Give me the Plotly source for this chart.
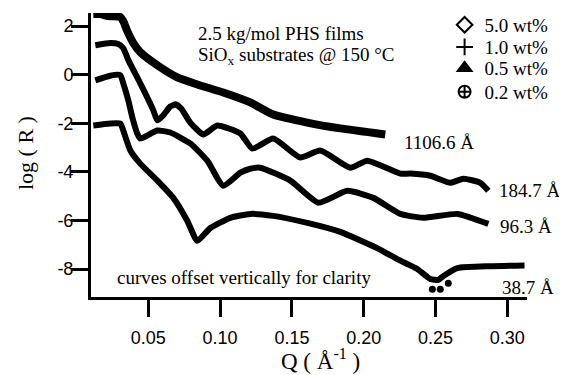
import plotly.graph_objects as go

# ---------------- data ----------------
labels = ["5.0 wt%", "1.0 wt%", "0.5 wt%", "0.2 wt%"]
symbols = ["diamond-open", "cross-thin-open", "triangle-up", "circle-cross-open"]
thickness_labels = ["1106.6 Å", "184.7 Å", "96.3 Å", "38.7 Å"]

q_5wt = [0.0117, 0.0166, 0.0221, 0.0270, 0.0305, 0.0326, 0.0354, 0.0396, 0.0444, 0.0563,
         0.0702, 0.0841, 0.1022, 0.1210, 0.1370, 0.1607, 0.1837, 0.2150]
r_5wt = [2.50, 2.50, 2.41, 2.41, 2.37, 2.20, 1.79, 1.30, 0.93, 0.39,
         -0.11, -0.40, -0.73, -1.14, -1.64, -1.97, -2.21, -2.46]

q_1wt = [0.0131, 0.0235, 0.0291, 0.0326, 0.0361, 0.0423, 0.0479, 0.0535, 0.0563, 0.0597,
         0.0653, 0.0690, 0.0730, 0.0792, 0.0883, 0.0980, 0.1141, 0.1224, 0.1370, 0.1558,
         0.1698, 0.1907, 0.2025, 0.2255, 0.2324, 0.2464, 0.2603, 0.2694, 0.2812, 0.2868]
r_1wt = [1.21, 1.30, 1.26, 1.09, 0.60, -0.11, -0.77, -1.47, -1.88, -1.72,
         -1.31, -1.22, -1.40, -1.97, -2.46, -2.09, -2.42, -3.04, -2.63, -3.41,
         -3.12, -3.83, -3.54, -4.07, -4.07, -4.16, -4.45, -4.28, -4.45, -4.78]

q_05wt = [0.0131, 0.0235, 0.0305, 0.0326, 0.0361, 0.0389, 0.0423, 0.0444, 0.0563, 0.0653,
          0.0792, 0.0911, 0.1022, 0.1141, 0.1210, 0.1280, 0.1489, 0.1684, 0.1886, 0.2067,
          0.2255, 0.2415, 0.2652, 0.2868]
r_05wt = [-0.23, -0.04, -0.02, -0.36, -1.06, -1.76, -2.42, -2.63, -2.30, -2.38,
          -2.83, -3.54, -4.57, -4.03, -3.87, -3.83, -4.36, -5.27, -4.78, -5.07,
          -5.73, -5.89, -5.73, -6.14]

q_02wt = [0.0117, 0.0235, 0.0305, 0.0326, 0.0375, 0.0444, 0.0563, 0.0674, 0.0772, 0.0841,
          0.0932, 0.1071, 0.1210, 0.1370, 0.1607, 0.1837, 0.2090, 0.2234, 0.2324, 0.2373,
          0.2464, 0.2520, 0.2554, 0.2652, 0.2882, 0.3120]
r_02wt = [-2.09, -2.01, -2.01, -2.30, -3.12, -3.66, -4.36, -5.07, -6.02, -6.84,
          -6.31, -5.89, -5.73, -5.81, -6.10, -6.47, -7.13, -7.59, -7.85, -8.00,
          -8.41, -8.45, -8.29, -7.96, -7.88, -7.85]
q_02wt_scatter = [0.2478, 0.2533, 0.2589]
r_02wt_scatter = [-8.83, -8.83, -8.58]

x_tickvals = [0.05, 0.10, 0.15, 0.20, 0.25, 0.30]
x_ticktext = ["0.05", "0.10", "0.15", "0.20", "0.25", "0.30"]
y_tickvals = [-8, -6, -4, -2, 0, 2]
y_ticktext = ["-8", "-6", "-4", "-2", "0", "2"]

# label anchor positions (data coords) for thickness labels
label_q = [0.2269, 0.2930, 0.2937, 0.2951]
label_r = [-2.79, -4.78, -6.26, -8.75]

SERIF = "Liberation Serif, Times New Roman, serif"
SANS = "Liberation Sans, Arial, sans-serif"

series = [(q_5wt, r_5wt, 8), (q_1wt, r_1wt, 6), (q_05wt, r_05wt, 6), (q_02wt, r_02wt, 6)]

fig = go.Figure()
for (q, r, w) in series:
    fig.add_trace(go.Scatter(x=q, y=r, mode="lines",
                             line=dict(color="black", width=w, shape="spline", smoothing=0.5),
                             showlegend=False, hoverinfo="skip"))
fig.add_trace(go.Scatter(x=q_02wt_scatter, y=r_02wt_scatter, mode="markers",
                         marker=dict(color="black", size=7, symbol="circle"),
                         showlegend=False, hoverinfo="skip"))

# legend entries, each in its own legend box so rows can be spaced like the reference
legend_ids = ["legend", "legend2", "legend3", "legend4"]
legend_rows = [0.958, 0.880, 0.806, 0.722]
for lab, sym, lid in zip(labels, symbols, legend_ids):
    fig.add_trace(go.Scatter(x=[None], y=[None], mode="markers", name=lab, legend=lid,
                             marker=dict(symbol=sym, size=12, color="black",
                                         line=dict(color="black", width=2.5))))

annotations = [
    dict(x=0.0834, y=1.71, xref="x", yref="y", text="2.5 kg/mol PHS films",
         xanchor="left", yanchor="middle", showarrow=False),
    dict(x=0.0834, y=0.78, xref="x", yref="y", text="SiO<sub>x</sub> substrates @ 150 °C",
         xanchor="left", yanchor="middle", showarrow=False),
    dict(x=0.0271, y=-8.36, xref="x", yref="y", text="curves offset vertically for clarity",
         xanchor="left", yanchor="middle", showarrow=False),
]
for t, lq, lr in zip(thickness_labels, label_q, label_r):
    annotations.append(dict(x=lq, y=lr, xref="x", yref="y", text=t,
                            xanchor="left", yanchor="middle", showarrow=False))
# axis titles
annotations.append(dict(x=0.526, y=0, xref="paper", yref="paper", yshift=-62,
                        text="Q ( Å<sup>-1</sup> )", xanchor="center", yanchor="middle",
                        showarrow=False, font=dict(family=SERIF, size=23, color="black")))
annotations.append(dict(x=0, y=0.507, xref="paper", yref="paper", xshift=-66,
                        text="log ( R )", textangle=-90, xanchor="center", yanchor="middle",
                        showarrow=False, font=dict(family=SERIF, size=22, color="black")))

layout_legends = {}
for lid, ly in zip(legend_ids, legend_rows):
    layout_legends[lid] = dict(x=0.811, y=ly, xanchor="left", yanchor="middle",
                               bgcolor="rgba(0,0,0,0)", font=dict(family=SERIF, size=19),
                               itemsizing="constant")

# the page body adds an 8 px margin, so the figure is 8 px smaller on each axis
fig.update_layout(
    width=559, height=367,
    margin=dict(l=83, r=40, t=5, b=78, autoexpand=False),
    paper_bgcolor="white", plot_bgcolor="white",
    font=dict(family=SERIF, size=19, color="black"),
    annotations=annotations,
    showlegend=True,
    xaxis=dict(range=[0.0101, 0.3137], showgrid=False, zeroline=False, automargin=False,
               showline=True, linewidth=3, linecolor="black",
               ticks="outside", ticklen=17, tickwidth=3, tickcolor="black",
               tickvals=x_tickvals, ticktext=x_ticktext, ticklabelstandoff=5,
               tickfont=dict(family=SANS, size=18, color="black")),
    yaxis=dict(range=[-9.15, 2.54], showgrid=False, zeroline=False, automargin=False,
               showline=True, linewidth=3, linecolor="black",
               ticks="outside", ticklen=17, tickwidth=3, tickcolor="black",
               tickvals=y_tickvals, ticktext=y_ticktext, ticklabelstandoff=-6,
               tickfont=dict(family=SANS, size=18, color="black")),
    **layout_legends,
)

fig.write_html("out.html")
